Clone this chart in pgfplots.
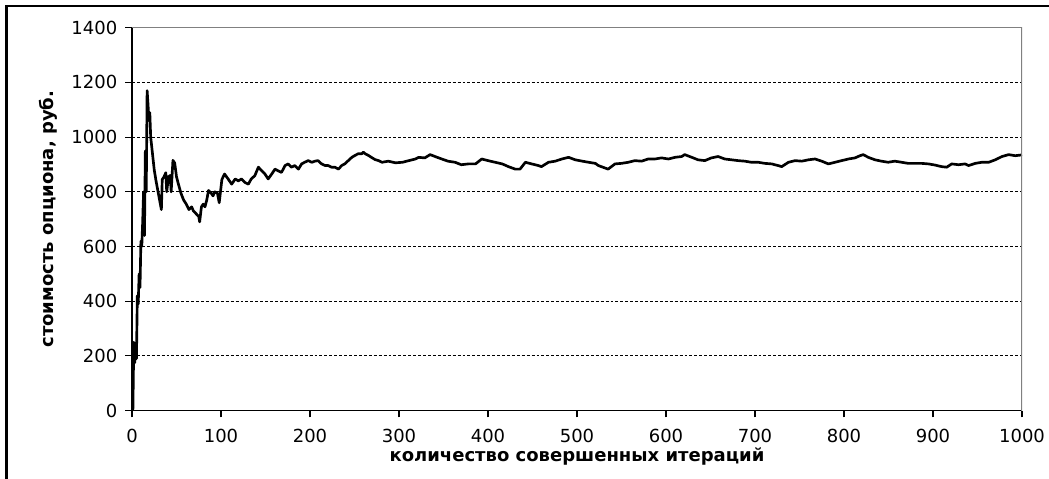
\documentclass[border=0pt]{standalone}
\usepackage{fontspec}
\setmainfont{DejaVu Sans}
\usepackage{pgfplots}
\pgfplotsset{compat=1.18}
\begin{document}
\begin{tikzpicture}
\path[use as bounding box, fill=white] (-99pt,-51.2pt) rectangle (687.75pt,308pt);
\draw[line width=2pt] (-94.1pt,-51.2pt) -- (-94.1pt,303.5pt) -- (687.75pt,303.5pt);
\begin{axis}[
  scale only axis,
  width=667.5pt, height=287.25pt,
  xmin=0, xmax=1000, ymin=0, ymax=1400,
  xtick={0,100,...,1000}, ytick={0,200,...,1400},
  axis x line*=bottom, axis y line*=left,
  axis line style={black, line width=0.8pt, -},
  tick align=outside, major tick length=5pt,
  tick style={black, line width=0.8pt},
  ymajorgrids,
  major grid style={black, line width=0.7pt, dash pattern=on 2.2pt off 1.5pt},
  /pgf/number format/assume math mode=true,
  /pgf/number format/set thousands separator={},
  tick label style={font=\fontsize{13.5}{15}\selectfont},
  yticklabel style={xshift=-2.5pt},
  xticklabel style={yshift=-5pt},
  xlabel={\textbf{количество совершенных итераций}},
  ylabel={\textbf{стоимость опциона, руб.}},
  label style={font=\fontsize{13.5}{15}\selectfont},
  xlabel style={yshift=3pt},
  ylabel style={yshift=3.5pt},
]
\addplot[black, line width=2pt, line join=round] coordinates {
(0,0) (1,0) (2,250) (3,175) (4,240) (5,190) (6,420) (7,390) (8,500) (9,450)
(10,620) (11,600) (12,690) (13,800) (14,640) (15,950) (16,800) (17,1170) (18,1120) (19,1060)
(20,1090) (21,1000) (23,940) (25,880) (27,840) (29,805) (31,770) (33,735) (34,845) (36,855)
(38,870) (39,800) (41,855) (43,860) (44,800) (46,915) (48,905) (50,855) (52,830) (55,795)
(58,770) (61,755) (64,735) (67,745) (69,730) (72,720) (75,710) (76,690) (78,745) (80,755)
(82,745) (84,770) (86,805) (89,795) (91,785) (93,800) (96,795) (98,760) (101,845) (104,865)
(108,847) (112,828) (116,847) (119.5,840) (123,847) (127,834) (130.7,828) (134,847) (138,859) (142,890)
(145.7,877) (149.4,865) (153,847) (157,865) (160.7,883) (164,877) (168,871) (172,896) (175.6,902) (179,890)
(183,896) (187,883) (190.6,902) (194,908) (198,914) (202,908) (205.6,912) (209,914) (213,902) (217,896)
(220.6,896) (224,890) (228,890) (232,883) (235.6,896) (239,902) (243,914) (247,926) (250.6,933) (254,939)
(258,939) (260,945) (262,939) (265.6,933) (269,926) (273,918) (277,914) (281,908) (288,912) (296,906)
(304,908) (311,914) (318.5,920) (322,926) (329,924) (335,936) (340.5,929) (348,920) (355,912) (363,908)
(370,899) (378,902) (386,902) (393,920) (400,914) (408,908) (416,902) (423,892) (430.6,883) (436,883)
(442,908) (449,902) (456.6,896) (460,892) (468,908) (475.5,912) (483,920) (490.6,926) (498,917) (506,912)
(513,908) (520.6,904) (524,896) (531.5,887) (535,883) (542.7,902) (550,904) (557.7,908) (565,914) (572.6,912)
(580,920) (587.6,920) (595,924) (602.6,920) (610,926) (617.6,929) (621,936) (629,926) (636,917) (643.6,914)
(651,924) (658.6,929) (666,920) (673.6,917) (681,914) (688.6,912) (696,908) (703.6,908) (711,904) (718.7,902)
(726,896) (730,892) (737.6,908) (745,914) (752.6,912) (760,917) (767.4,920) (775,912) (782.4,902) (790,908)
(797.4,914) (805,920) (812.4,924) (818,932) (821.6,936) (827.3,926) (834.8,917) (842,912) (849.7,908) (857,912)
(864.8,908) (872,904) (879.8,904) (887,904) (894.8,902) (902,898) (909.7,892) (915.4,890) (921,902) (928.6,899)
(936,902) (940,896) (947.6,904) (955,908) (962.6,908) (970,917) (977.5,929) (985,936) (992.5,932) (1000,935)
};
\draw[gray, line width=0.8pt] (rel axis cs:0,1) -- (rel axis cs:1,1) -- (rel axis cs:1,0);
\end{axis}
\end{tikzpicture}
\end{document}
